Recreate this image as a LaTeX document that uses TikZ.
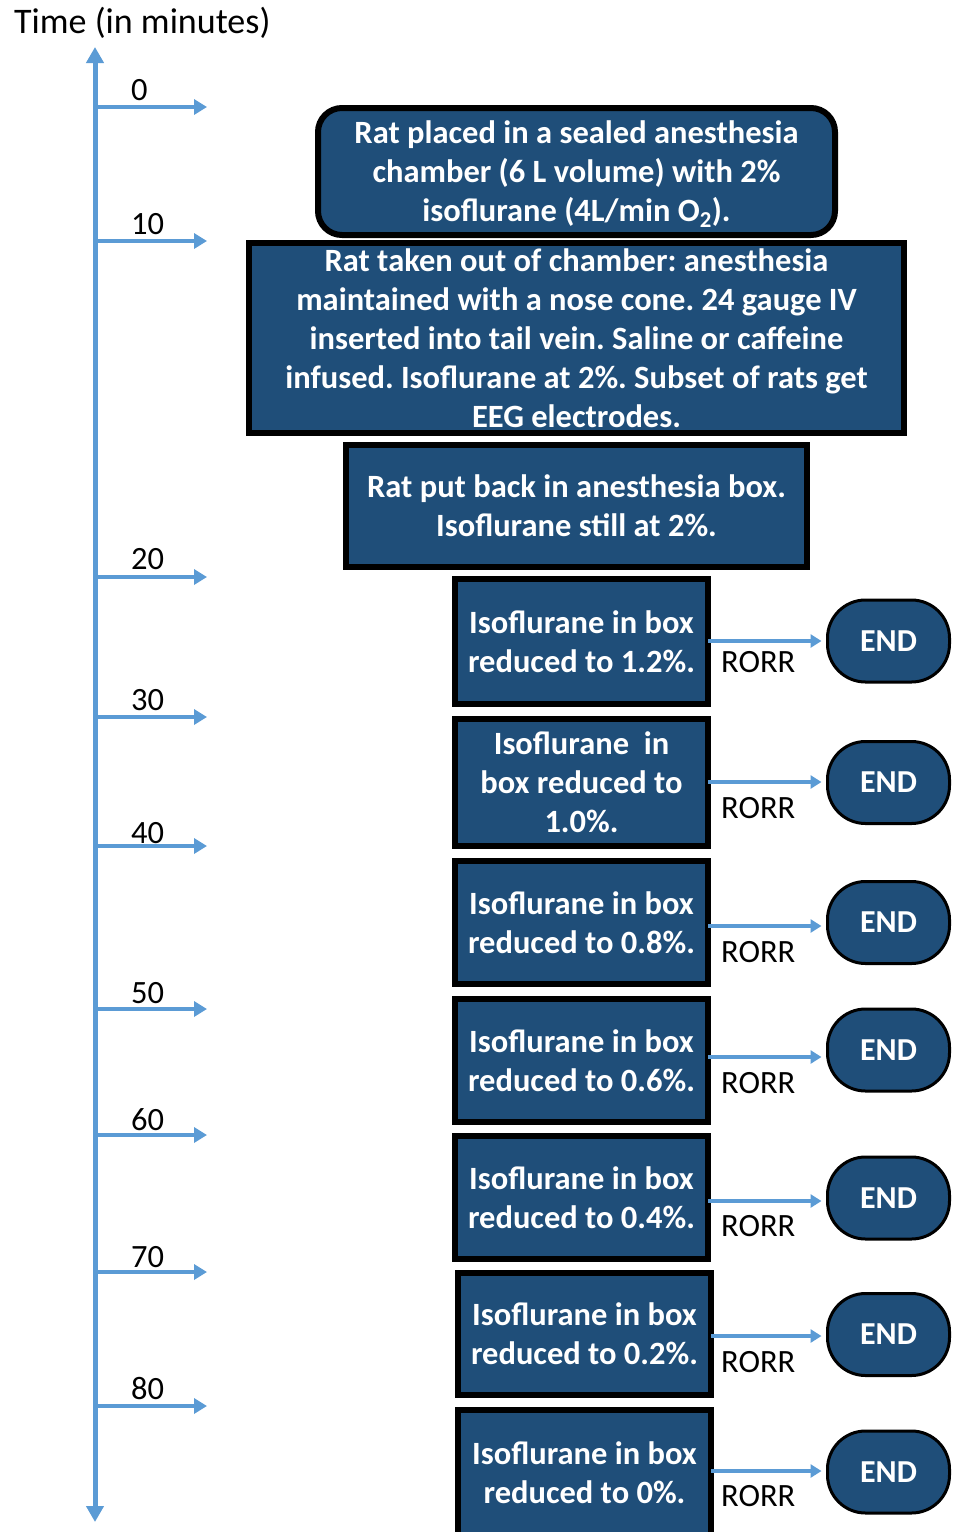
\documentclass[tikz,border=0pt]{standalone}
\usepackage{fontspec}
\setmainfont{Carlito}
\frenchspacing
\usetikzlibrary{arrows.meta}
\definecolor{boxblue}{HTML}{1F4E79}
\definecolor{lineblue}{HTML}{5B9BD5}
\tikzset{
  stepbox/.style={draw=black, line width=6pt, fill=boxblue, text=white,
    font=\bfseries\fontsize{32.5}{39}\selectfont, align=center, inner sep=0pt, outer sep=0pt},
  endbox/.style={draw=black, line width=3pt, fill=boxblue, rounded corners=38pt,
    minimum width=122pt, minimum height=82pt, text=white,
    font=\bfseries\fontsize{32}{38}\selectfont, inner sep=0pt, outer sep=0pt},
  axisline/.style={draw=lineblue, line width=5pt,
    {Triangle[length=16pt,width=17pt]}-{Triangle[length=16pt,width=17pt]}},
  tickarrow/.style={draw=lineblue, line width=4pt, -{Triangle[length=13pt,width=15pt]}},
  rorrarrow/.style={draw=lineblue, line width=4pt, -{Triangle[length=11pt,width=13pt]}, shorten >=6pt},
  lbl/.style={font=\fontsize{32.5}{38}\selectfont, inner sep=0pt, text=black},
}
\begin{document}
\begin{tikzpicture}[x=1pt,y=-1pt]
\useasboundingbox (0,0) rectangle (954,1532);
\fill[white] (0,0) rectangle (954,1532);

% title
\node[lbl, font=\fontsize{36}{42}\selectfont, anchor=base west] (title) at (14,33) {Time (in minutes)};

% axis
\coordinate (axtop) at (95,47);
\coordinate (axbot) at (95,1522);
\draw[axisline] (axbot) -- (axtop);

% ticks
\foreach \n/\y/\ly in {0/107/90, 10/241/224, 20/577/559, 30/717/700, 40/846/833, 50/1009/993, 60/1135/1120, 70/1272/1257, 80/1406/1388}{
  \coordinate (ts\n) at (95,\y);
  \coordinate (te\n) at (207,\y);
  \draw[tickarrow] (ts\n) -- (te\n);
  \node[lbl, anchor=west] (lab\n) at (131,\ly) {\n};
}

% main boxes
\node[stepbox, rounded corners=24pt, minimum width=517pt, minimum height=127pt] (b1) at (576.5,171.5)
  {\rule{0pt}{28pt}Rat placed in a sealed anesthesia\\chamber (6 L volume) with 2\%\\isoflurane (4L/min O\textsubscript{2}).};
\node[stepbox, minimum width=655pt, minimum height=190pt] (b2) at (576.5,338)
  {Rat taken out of chamber: anesthesia\\maintained with a nose cone. 24 gauge IV\\inserted into tail vein. Saline or caffeine\\infused. Isoflurane at 2\%. Subset of rats get\\EEG electrodes.};
\node[stepbox, minimum width=461pt, minimum height=122pt] (b3) at (576.5,506)
  {Rat put back in anesthesia box.\\Isoflurane still at 2\%.};

\node[stepbox, minimum width=253pt, minimum height=125pt] (b4) at (581.5,641.5)
  {Isoflurane in box\\reduced to 1.2\%.};
\node[stepbox, minimum width=253pt, minimum height=127pt] (b5) at (581.5,782.5)
  {Isoflurane\ \ in\\box reduced to\\1.0\%.};
\node[stepbox, minimum width=253pt, minimum height=123pt] (b6) at (581.5,922.5)
  {Isoflurane in box\\reduced to 0.8\%.};
\node[stepbox, minimum width=253pt, minimum height=123pt] (b7) at (581.5,1060.5)
  {Isoflurane in box\\reduced to 0.6\%.};
\node[stepbox, minimum width=253pt, minimum height=123pt] (b8) at (581.5,1197.5)
  {Isoflurane in box\\reduced to 0.4\%.};
\node[stepbox, minimum width=253pt, minimum height=122pt] (b9) at (584.5,1334)
  {Isoflurane in box\\reduced to 0.2\%.};
\node[stepbox, minimum width=253pt, minimum height=125pt] (b10) at (584.5,1472.5)
  {Isoflurane in box\\reduced to 0\%.};

% END boxes, arrows, RORR labels
\foreach \b/\ey/\ay/\ry in {4/641/641/662, 5/782.5/782/808, 6/922.5/926/952, 7/1050/1057/1083, 8/1198/1201/1226, 9/1334.5/1336/1362, 10/1472/1471/1496}{
  \node[endbox] (e\b) at (888.5,\ey) {END};
  \coordinate (as\b) at (b\b.east |- 0,\ay);
  \coordinate (ae\b) at (e\b.west |- 0,\ay);
  \draw[rorrarrow] (as\b) -- (ae\b);
  \node[lbl, anchor=west] (r\b) at (721,\ry) {RORR};
}
\end{tikzpicture}
\end{document}
